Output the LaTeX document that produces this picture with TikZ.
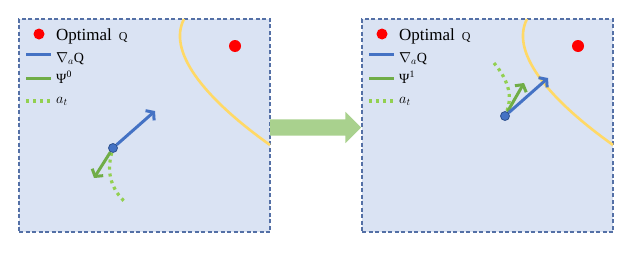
\documentclass[tikz,border=0pt]{standalone}
\usepackage[no-math]{fontspec}
\setmainfont{Liberation Serif}
\usepackage{amsmath}
\usetikzlibrary{arrows.meta, positioning, shapes.arrows, calc}
\definecolor{panelfill}{RGB}{218,227,243}
\definecolor{panelline}{RGB}{84,112,166}
\definecolor{myred}{RGB}{255,0,0}
\definecolor{myblue}{RGB}{68,114,196}
\definecolor{agentline}{RGB}{47,82,143}
\definecolor{mygreen}{RGB}{112,173,71}
\definecolor{mylime}{RGB}{146,208,80}
\definecolor{myyellow}{RGB}{255,217,102}
\definecolor{flowgreen}{RGB}{169,209,142}
\tikzset{
  panel/.style={rectangle, draw=panelline, fill=panelfill, dash pattern=on 4pt off 2.5pt,
    line width=1.2pt, minimum width=251pt, minimum height=213pt, inner sep=0pt, outer sep=0pt},
  optdot/.style={circle, fill=myred, minimum size=11pt, inner sep=0pt},
  agent/.style={circle, draw=agentline, fill=myblue, minimum size=9pt, inner sep=0pt, line width=0.8pt},
  opttext/.style={anchor=base west, inner sep=0pt, font=\fontsize{17}{17}\selectfont},
  legtext/.style={anchor=base west, inner sep=0pt, font=\fontsize{14}{14}\selectfont},
  gradarrow/.style={-{Straight Barb[length=5pt, width=13pt]}, line width=3pt, color=myblue},
  psiarrow/.style={-{Straight Barb[length=5pt, width=13pt]}, line width=3pt, color=mygreen},
  gradline/.style={line width=3pt, color=myblue},
  psiline/.style={line width=3pt, color=mygreen},
  actline/.style={dash pattern=on 3pt off 4pt, line width=3.2pt, color=mylime},
  frontier/.style={line width=2.6pt, color=myyellow},
  flowarrow/.style={single arrow, fill=flowgreen, minimum height=91pt, inner xsep=0pt,
    inner ysep=8pt, single arrow head extend=7.5pt, outer sep=0pt}
}
\begin{document}
\begin{tikzpicture}[x=1pt, y=-1pt]
  \useasboundingbox (0,0) rectangle (634,257);

  % Left panel
  \node[panel, anchor=north west] (panelA) at (19,19) {};
  \draw[frontier] (184,19) .. controls (168,50) and (200,95) .. (270,145);
  \node[optdot, minimum size=12pt] (targetA) at (235,46) {};

  % Legend
  \node[optdot] (optdotA) at (39,34) {};
  \node[opttext] (optA) at (56,40) {Optimal\hspace{7pt}{\fontsize{12}{12}\selectfont Q}};
  \node[legtext] (gradA) at (56,62) {$\nabla_{a}$Q};
  \node[legtext] (psiA) at (56,83) {Ψ\textsuperscript{0}};
  \node[legtext] (actA) at (56,103) {$a_t$};
  \draw[gradline] (26,54) -- (51,54);
  \draw[psiline] (26,78) -- (51,78);
  \draw[actline] (26,101) -- (52,101);

  % Agent step
  \node[agent] (dotA) at (113,148) {};
  \coordinate (gradtipA) at (155,111);
  \coordinate (psitipA) at (94,178);
  \coordinate (actendA) at (126,203);
  \draw[actline] (dotA) .. controls (106,174) and (112,190) .. (actendA);
  \draw[psiarrow] (dotA) -- (psitipA);
  \draw[gradarrow] (dotA) -- (gradtipA);

  % Right panel
  \node[panel, anchor=north west] (panelB) at (362,19) {};
  \draw[frontier] (527,19) .. controls (511,50) and (543,95) .. (613,145);
  \node[optdot, minimum size=12pt] (targetB) at (578,46) {};

  % Legend
  \node[optdot] (optdotB) at (382,34) {};
  \node[opttext] (optB) at (399,40) {Optimal\hspace{7pt}{\fontsize{12}{12}\selectfont Q}};
  \node[legtext] (gradB) at (399,62) {$\nabla_{a}$Q};
  \node[legtext] (psiB) at (399,83) {Ψ\textsuperscript{1}};
  \node[legtext] (actB) at (399,103) {$a_t$};
  \draw[gradline] (369,54) -- (394,54);
  \draw[psiline] (369,78) -- (394,78);
  \draw[actline] (369,101) -- (395,101);

  % Agent step
  \node[agent] (dotB) at (505,116) {};
  \coordinate (gradtipB) at (548,78);
  \coordinate (psitipB) at (524,83);
  \coordinate (actstartB) at (494,63);
  \draw[actline] (actstartB) .. controls (510,82) and (512,98) .. (dotB);
  \draw[psiarrow] (dotB) -- (psitipB);
  \draw[gradarrow] (dotB) -- (gradtipB);

  % Transition between panels
  \node[flowarrow, anchor=west] (flow) at ($(panelA.east)+(0,2)$) {};
\end{tikzpicture}
\end{document}
